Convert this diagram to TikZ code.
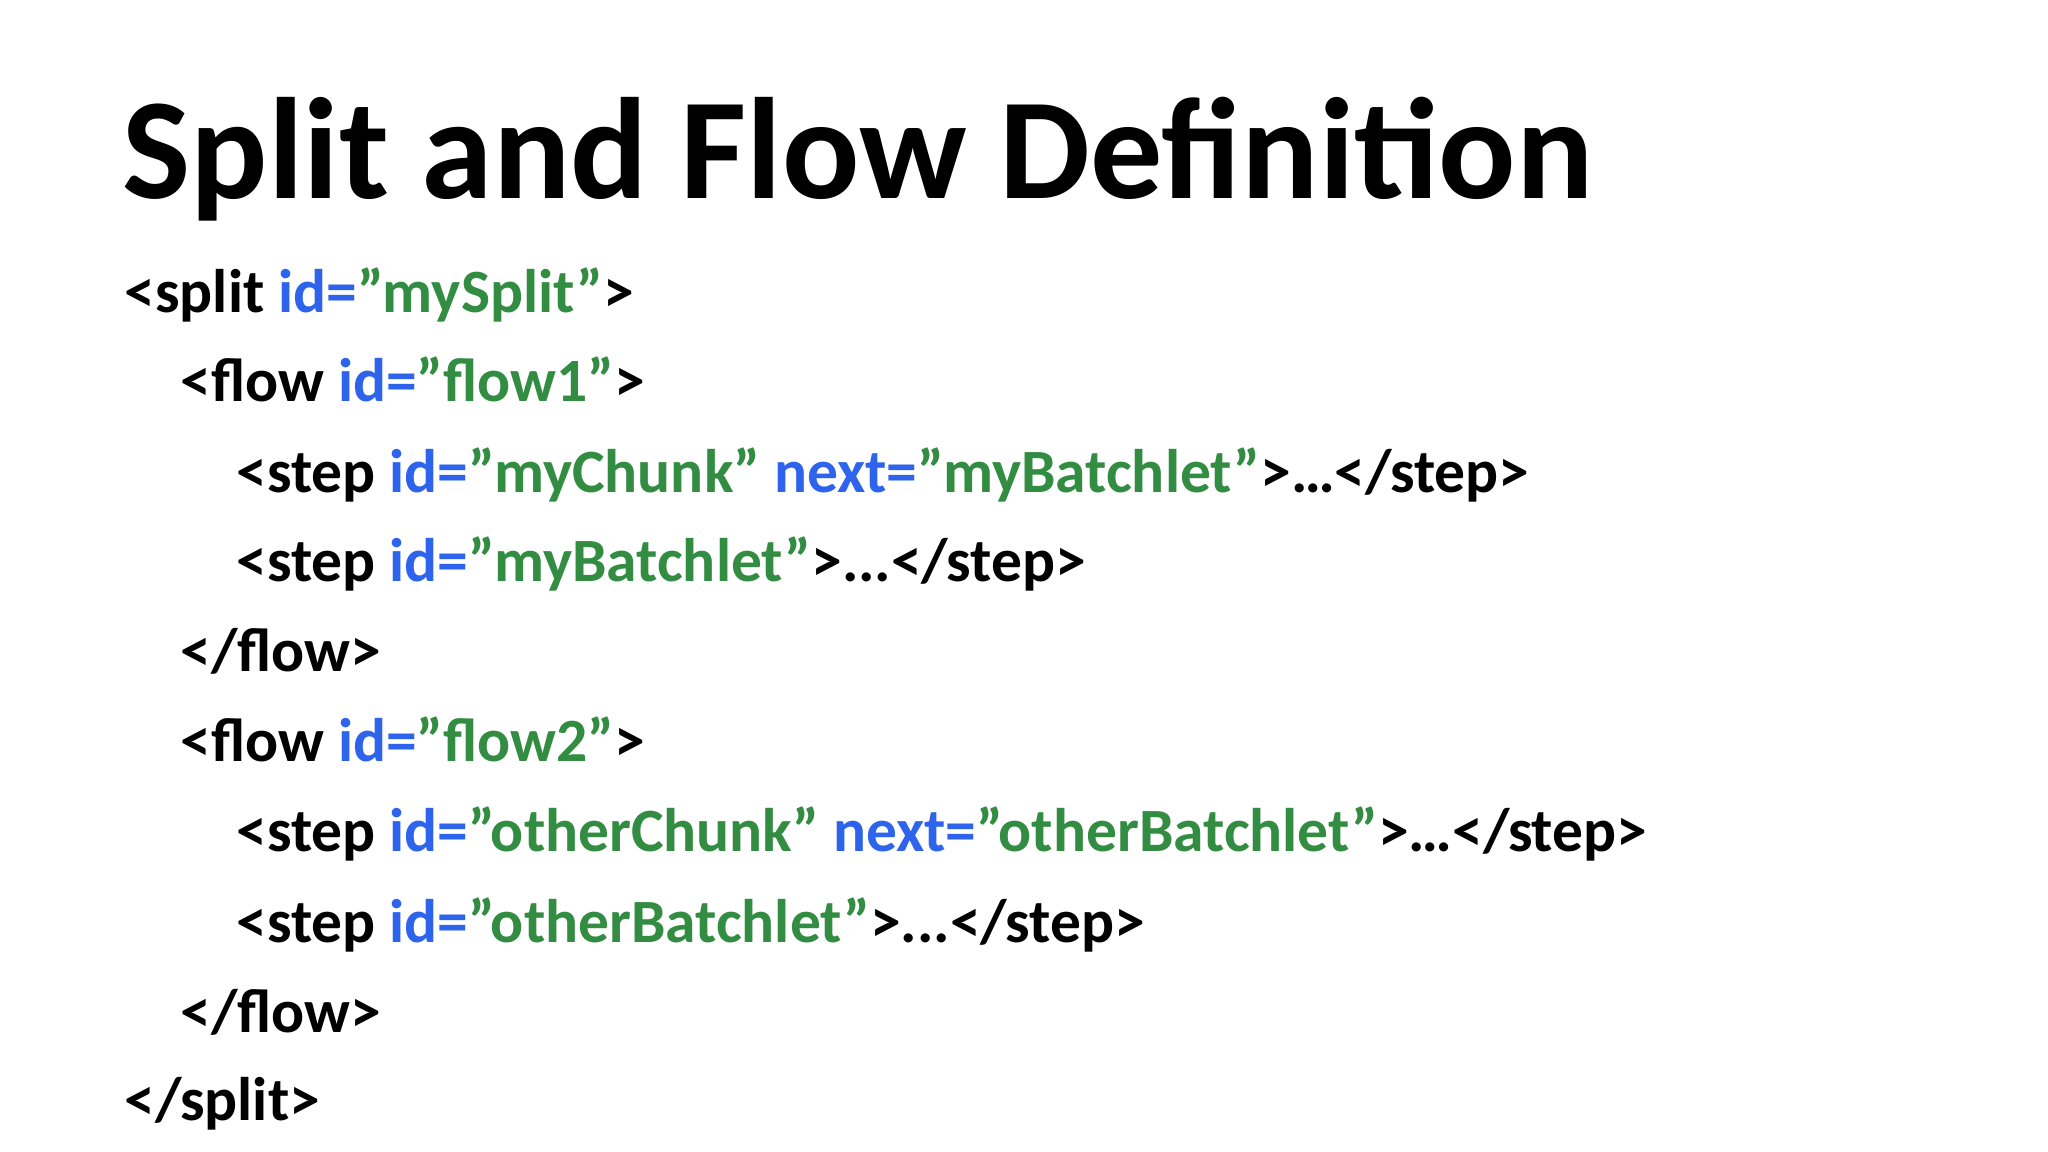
\documentclass[tikz,border=0pt]{standalone}
\usepackage{fontspec}
\setmainfont{Carlito}
\definecolor{kwblue}{RGB}{45,100,235}
\definecolor{valgreen}{RGB}{50,140,65}
\newcommand{\At}[1]{\textcolor{kwblue}{#1}}
\newcommand{\Vl}[1]{\textcolor{valgreen}{#1}}
\begin{document}
\begin{tikzpicture}[x=0.01cm,y=-0.01cm,
  code/.style={anchor=base west,inner sep=0pt,font=\fontsize{17.5}{20}\selectfont\bfseries},
  title/.style={anchor=base west,inner sep=0pt,font=\fontsize{41}{48}\selectfont\bfseries}]
\useasboundingbox[fill=white] (0,0) rectangle (2048,1152);
\node[title] (t) at (122,199) {Split and Flow Definition};
\node[code] (l1) at (124,313) {<split \At{id=}\Vl{"mySplit"}>};
\node[code] (l2) at (180,402) {<flow \At{id=}\Vl{"flow1"}>};
\node[code] (l3) at (236,492) {<step \At{id=}\Vl{"myChunk"} \At{next=}\Vl{"myBatchlet”}>…</step>};
\node[code] (l4) at (236,581) {<step \At{id=}\Vl{"myBatchlet"}>...</step>};
\node[code] (l5) at (180,671) {</flow>};
\node[code] (l6) at (180,761) {<flow \At{id=}\Vl{"flow2"}>};
\node[code] (l7) at (236,851) {<step \At{id=}\Vl{”otherChunk"} \At{next=}\Vl{”otherBatchlet”}>…</step>};
\node[code] (l8) at (236,942) {<step \At{id=}\Vl{”otherBatchlet"}>...</step>};
\node[code] (l9) at (180,1032) {</flow>};
\node[code] (l10) at (124,1120) {</split>};
\end{tikzpicture}
\end{document}
